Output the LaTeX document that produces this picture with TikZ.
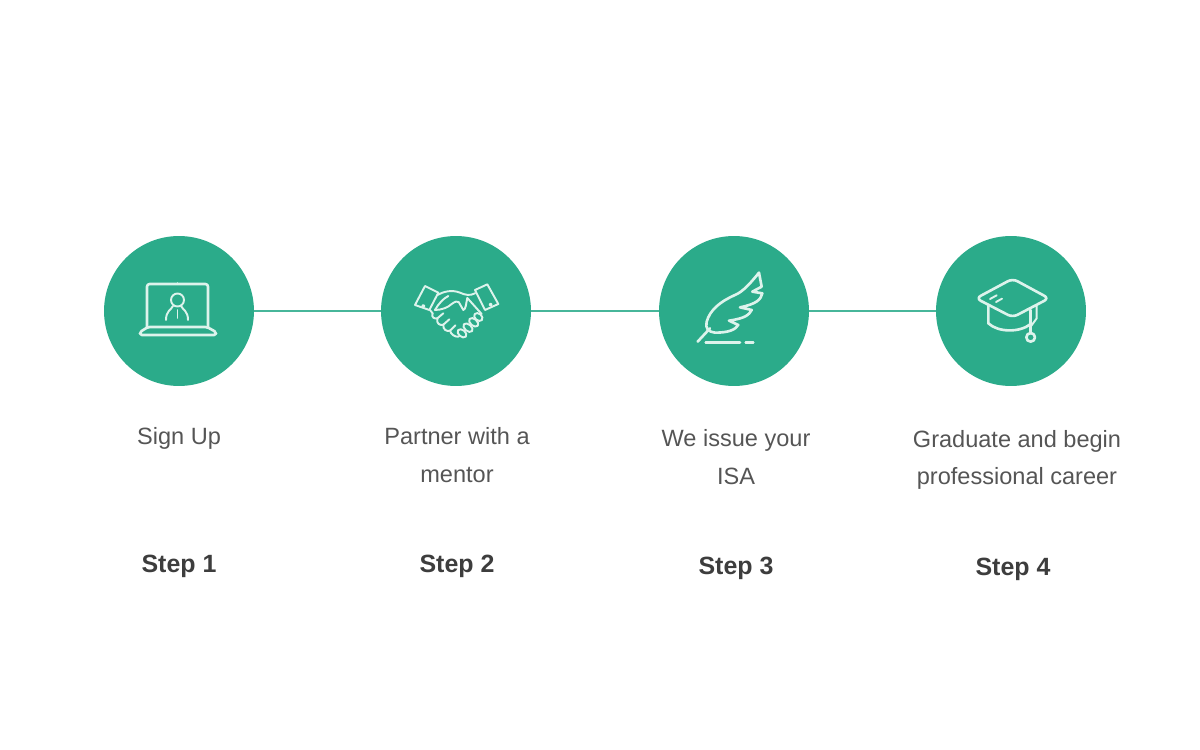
\documentclass[tikz,border=0pt]{standalone}
\usepackage{fontspec}
\setmainfont{Liberation Sans}
\usetikzlibrary{positioning}
\definecolor{stepgreen}{HTML}{2BAB8A}
\definecolor{linegreen}{HTML}{47B69A}
\definecolor{icongreen}{HTML}{DDF3EC}
\definecolor{textgray}{HTML}{555555}
\definecolor{stepgray}{HTML}{3D3D3D}
\tikzset{stepcircle/.style={circle, fill=stepgreen, minimum size=3cm, inner sep=0pt},
stepline/.style={linegreen, line width=1.6pt},
iconline/.style={icongreen, line width=1.5pt, line join=round, line cap=round},
thinicon/.style={icongreen, line width=1.1pt, line join=round, line cap=round},
steptext/.style={textgray, font=\fontsize{13.4}{21.5}\selectfont, align=center},
steplabel/.style={stepgray, font=\fontsize{14.2}{17}\selectfont\bfseries}}

\begin{document}
\begin{tikzpicture}[x=.02cm, y=-.02cm]
\useasboundingbox (0,0) rectangle (1200,750);

\node[stepcircle] (circ1) at (179,311) {};
\node[stepcircle] (circ2) at (456,311) {};
\node[stepcircle] (circ3) at (734,311) {};
\node[stepcircle] (circ4) at (1011,311) {};
\foreach \i/\j in {1/2, 2/3, 3/4} {\draw[stepline] (circ\i) -- (circ\j);}

%laptop
\draw[iconline, rounded corners=1.5] (147,327) -- (147,284) -- (208,284) -- (208,327);
\draw[iconline, rounded corners=1] (177,327) -- (207,327) -- (216,332) -- (216,335) -- (140,335) -- (140,332) -- (148,327) -- cycle;
\draw[thinicon] (177.5,283) -- (177.5,284);
\draw[thinicon] (177.5,300) circle (6.5);
\draw[thinicon] (166,320) .. controls (166,311) and (171,310) .. (173,306);
\draw[thinicon] (188,320) .. controls (188,311) and (183,310) .. (181,306);
\draw[thinicon] (177.5,310) -- (177.5,318);

%handshake
\begin{scope}[shift={(380,230)}, x=.00667cm, y=-.00667cm]
\draw[thinicon] (135,168) -- (175,188) -- (148,240) -- (105,225) -- cycle;
\draw[thinicon] (285,180) -- (322,163) -- (355,222) -- (315,240) -- cycle;
\draw[thinicon] (130,228) circle (3);
\draw[thinicon] (332,224) circle (3);
\draw[thinicon] (172,195) .. controls (190,185) and (215,178) .. (240,188) .. controls (255,195) and (270,198) .. (285,190);
\draw[thinicon] (165,240) .. controls (185,240) and (205,232) .. (215,222) .. controls (225,215) and (232,212) .. (236,216) -- (250,240) .. controls (258,238) and (258,220) .. (262,204);
\draw[thinicon] (205,198) .. controls (190,205) and (175,222) .. (165,240);
\draw[thinicon] (262,204) -- (305,252);
\draw[thinicon] (150,240) -- (158,250);
\draw[thinicon] (158,250) .. controls (152,262) and (165,268) .. (172,265) .. controls (168,280) and (180,288) .. (190,284) .. controls (188,298) and (200,306) .. (210,302) .. controls (212,312) and (225,322) .. (236,320);
\draw[thinicon] (172,265) -- (190,250);
\draw[thinicon] (190,284) -- (208,268);
\draw[thinicon] (210,302) -- (226,286);
\draw[thinicon, rotate around={-40:(246,310)}] (246,310) ellipse (15 and 10);
\draw[thinicon, rotate around={-40:(264,293)}] (264,293) ellipse (16 and 10);
\draw[thinicon, rotate around={-40:(281,277)}] (281,277) ellipse (16 and 10);
\draw[thinicon, rotate around={-40:(295,261)}] (295,261) ellipse (14 and 10);
\end{scope}

%feather
\begin{scope}[shift={(655,230)}, x=.00667cm, y=-.00667cm]
\draw[iconline] (312,128) -- (320,170) -- (292,185) -- (322,190) .. controls (318,208) and (305,222) .. (255,232) -- (290,240) .. controls (282,255) and (270,265) .. (222,272) -- (250,285) .. controls (240,300) and (220,308) .. (180,308) .. controls (160,306) and (150,295) .. (155,275) .. controls (165,240) and (195,215) .. (240,195) .. controls (265,185) and (290,155) .. (312,128) -- cycle;
\draw[iconline] (128,335) -- (165,295);
\draw[iconline] (152,337) -- (255,337);
\draw[iconline] (272,337) -- (295,337);
\end{scope}

%cap
\begin{scope}[shift={(930,230)}, x=.00667cm, y=-.00667cm]
\draw[iconline, rounded corners=3] (248,146) -- (357,205) -- (248,262) -- (138,205) -- cycle;
\draw[iconline] (175,225) -- (175,280) .. controls (205,308) and (270,308) .. (302,282);
\draw[iconline] (302,240) -- (302,310);
\draw[thinicon] (320,225) -- (320,265) -- (302,290);
\draw[iconline] (302,322) circle (13);
\draw[thinicon] (180,207) -- (200,196);
\draw[thinicon] (198,216) -- (216,206);
\end{scope}

\node[steptext] (text1) at (179,438) {Sign Up};
\node[steptext] (text2) at (457,455) {Partner with a\\mentor};
\node[steptext] (text3) at (736,457) {We issue your\\ISA};
\node[steptext] (text4) at (1017,460) {Graduate and begin\\professional career};

\node[steplabel] (step1) at (179,566) {Step 1};
\node[steplabel] (step2) at (457,566) {Step 2};
\node[steplabel] (step3) at (736,568) {Step 3};
\node[steplabel] (step4) at (1013,569) {Step 4};
\end{tikzpicture}
\end{document}
